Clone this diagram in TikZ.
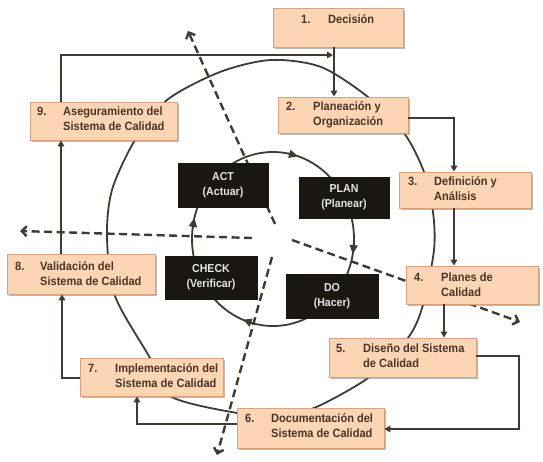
\documentclass[tikz,border=0pt]{standalone}
\usepackage{fontspec}
\newfontfamily\boxfont{Liberation Sans}[FakeStretch=0.92]
\usetikzlibrary{arrows.meta,shadows,calc}
\definecolor{peach}{HTML}{FCD5B5}
\definecolor{peachborder}{HTML}{D8A27E}
\definecolor{linecol}{HTML}{3F3A33}
\definecolor{blackbox}{HTML}{1A1712}
\definecolor{textbrown}{HTML}{4A3426}
\begin{document}
\begin{tikzpicture}[x=1pt,y=-1pt,
  box/.style={rectangle, fill=peach, draw=peachborder, line width=0.8pt, inner sep=0pt,
    drop shadow={shadow xshift=1.6pt, shadow yshift=-1.6pt, fill=black!50, opacity=0.55}},
  pdca/.style={rectangle, fill=blackbox, draw=blackbox, inner sep=0pt, text=white!90!black,
    font=\boxfont\bfseries\fontsize{11.5}{15}\selectfont, align=center},
  lbl/.style={inner sep=0pt, text=textbrown, font=\boxfont\bfseries\fontsize{12}{15}\selectfont},
  conn/.style={draw=linecol, line width=2.6pt, -{Triangle[length=6pt,width=6.5pt]}},
  loopline/.style={draw=linecol, line width=1.8pt},
  looparrow/.style={draw=linecol, line width=1.8pt, -{Triangle[length=9pt,width=8pt]}},
  dashline/.style={draw=linecol, line width=2.4pt, dash pattern=on 8pt off 4.5pt,
    -{Straight Barb[length=5pt,width=10pt]}}
]
\useasboundingbox (0,0) rectangle (543,462);
\fill[white] (0,0) rectangle (543,462);

% big loop
\draw[loopline] plot[smooth cycle] coordinates {(271,60) (321,67) (368,97) (404,133) (424,172)
  (433,212) (434,250) (423,305) (408,338) (371,376) (314,408) (275,415) (237,413) (170,396)
  (150,358) (115,296) (107,238) (112,190) (135,140) (167,100) (220,72)};

% inner PDCA loop
\coordinate (ic) at (273,239);
\draw[loopline] (ic) ellipse [x radius=81, y radius=87];
\foreach \t in {10,112,194,288}{
  \draw[looparrow] ($(ic)+({81*cos(\t-7)},{87*sin(\t-7)})$) -- ($(ic)+({81*cos(\t)},{87*sin(\t)})$);
}

% dashed radiating arrows
\coordinate (dA) at (275,224); \coordinate (tA) at (188,31);
\coordinate (dB) at (252,238); \coordinate (tB) at (20,231);
\coordinate (dC) at (292,240); \coordinate (tC) at (520,322);
\coordinate (dD) at (272,257); \coordinate (tD) at (217,455);
\draw[dashline] (dA) -- (tA);
\draw[dashline] (dB) -- (tB);
\draw[dashline] (dC) -- (tC);
\draw[dashline] (dD) -- (tD);

% boxes
\node[box, minimum width=130pt, minimum height=39pt] (b1) at (338,27.5) {};
\node[box, minimum width=130pt, minimum height=36pt] (b2) at (343,115) {};
\node[box, minimum width=132pt, minimum height=36pt] (b3) at (465,190) {};
\node[box, minimum width=132pt, minimum height=38pt] (b4) at (472,285) {};
\node[box, minimum width=147pt, minimum height=39pt] (b5) at (402.5,357.5) {};
\node[box, minimum width=147pt, minimum height=40pt] (b6) at (310.5,428) {};
\node[box, minimum width=143pt, minimum height=38pt] (b7) at (151.5,377) {};
\node[box, minimum width=148pt, minimum height=40pt] (b8) at (81,274) {};
\node[box, minimum width=147pt, minimum height=38pt] (b9) at (103.5,121) {};

\node[lbl, anchor=west] (l1) at (301,21) {\begin{tabular}{@{}p{27pt}@{}l@{}}1. & Decisión\end{tabular}};
\node[lbl, anchor=west] (l2) at (286,115) {\begin{tabular}{@{}p{27pt}@{}l@{}}2. & Planeación y\\ & Organización\end{tabular}};
\node[lbl, anchor=west] (l3) at (408,190) {\begin{tabular}{@{}p{26pt}@{}l@{}}3. & Definición y\\ & Análisis\end{tabular}};
\node[lbl, anchor=west] (l4) at (414,285.5) {\begin{tabular}{@{}p{27pt}@{}l@{}}4. & Planes de\\ & Calidad\end{tabular}};
\node[lbl, anchor=west] (l5) at (336,357) {\begin{tabular}{@{}p{27pt}@{}l@{}}5. & Diseño del Sistema\\ & de Calidad\end{tabular}};
\node[lbl, anchor=west] (l6) at (245,426.5) {\begin{tabular}{@{}p{26pt}@{}l@{}}6. & Documentación del\\ & Sistema de Calidad\end{tabular}};
\node[lbl, anchor=west] (l7) at (88,376.5) {\begin{tabular}{@{}p{27pt}@{}l@{}}7. & Implementación del\\ & Sistema de Calidad\end{tabular}};
\node[lbl, anchor=west] (l8) at (15,274.5) {\begin{tabular}{@{}p{25pt}@{}l@{}}8. & Validación del\\ & Sistema de Calidad\end{tabular}};
\node[lbl, anchor=west] (l9) at (37,120.5) {\begin{tabular}{@{}p{26pt}@{}l@{}}9. & Aseguramiento del\\ & Sistema de Calidad\end{tabular}};

% PDCA boxes
\node[pdca, minimum width=90pt, minimum height=44pt] (act) at (223,185) {ACT\\(Actuar)};
\node[pdca, minimum width=90pt, minimum height=41pt] (plan) at (344,197.5) {PLAN\\(Planear)};
\node[pdca, minimum width=92pt, minimum height=43pt] (check) at (211,277.5) {CHECK\\(Verificar)};
\node[pdca, minimum width=92pt, minimum height=44pt] (do) at (332,296) {DO\\(Hacer)};

% connectors
\coordinate (c9) at (61,55);
\coordinate (c12) at (334,55);
\coordinate (c23) at (454,118);
\coordinate (c45) at (444,320);
\coordinate (c56a) at (519,356);
\coordinate (c56b) at (519,429);
\coordinate (c67) at (137,424);
\coordinate (c78) at (62,378);
\coordinate (c89) at (61,200);
\draw[conn] (b1.south -| c12) -- (b2.north -| c12);
\draw[conn] (b9.north -| c9) -- (c9) -- ($(c12)+(-1,0)$);
\draw[conn] (b2.east |- c23) -- (c23) -- (b3.north -| c23);
\draw[conn] (b3.south -| c23) -- (b4.north -| c23);
\draw[conn] (b4.south -| c45) -- (b5.north -| c45);
\draw[conn] (b5.east |- c56a) -- (c56a) -- (c56b) -- (b6.east |- c56b);
\draw[conn] (b6.west |- c67) -- (c67) -- (b7.south -| c67);
\draw[conn] (b7.west |- c78) -- (c78) -- (b8.south -| c78);
\draw[conn] (b8.north -| c89) -- (b9.south -| c89);
\end{tikzpicture}
\end{document}
